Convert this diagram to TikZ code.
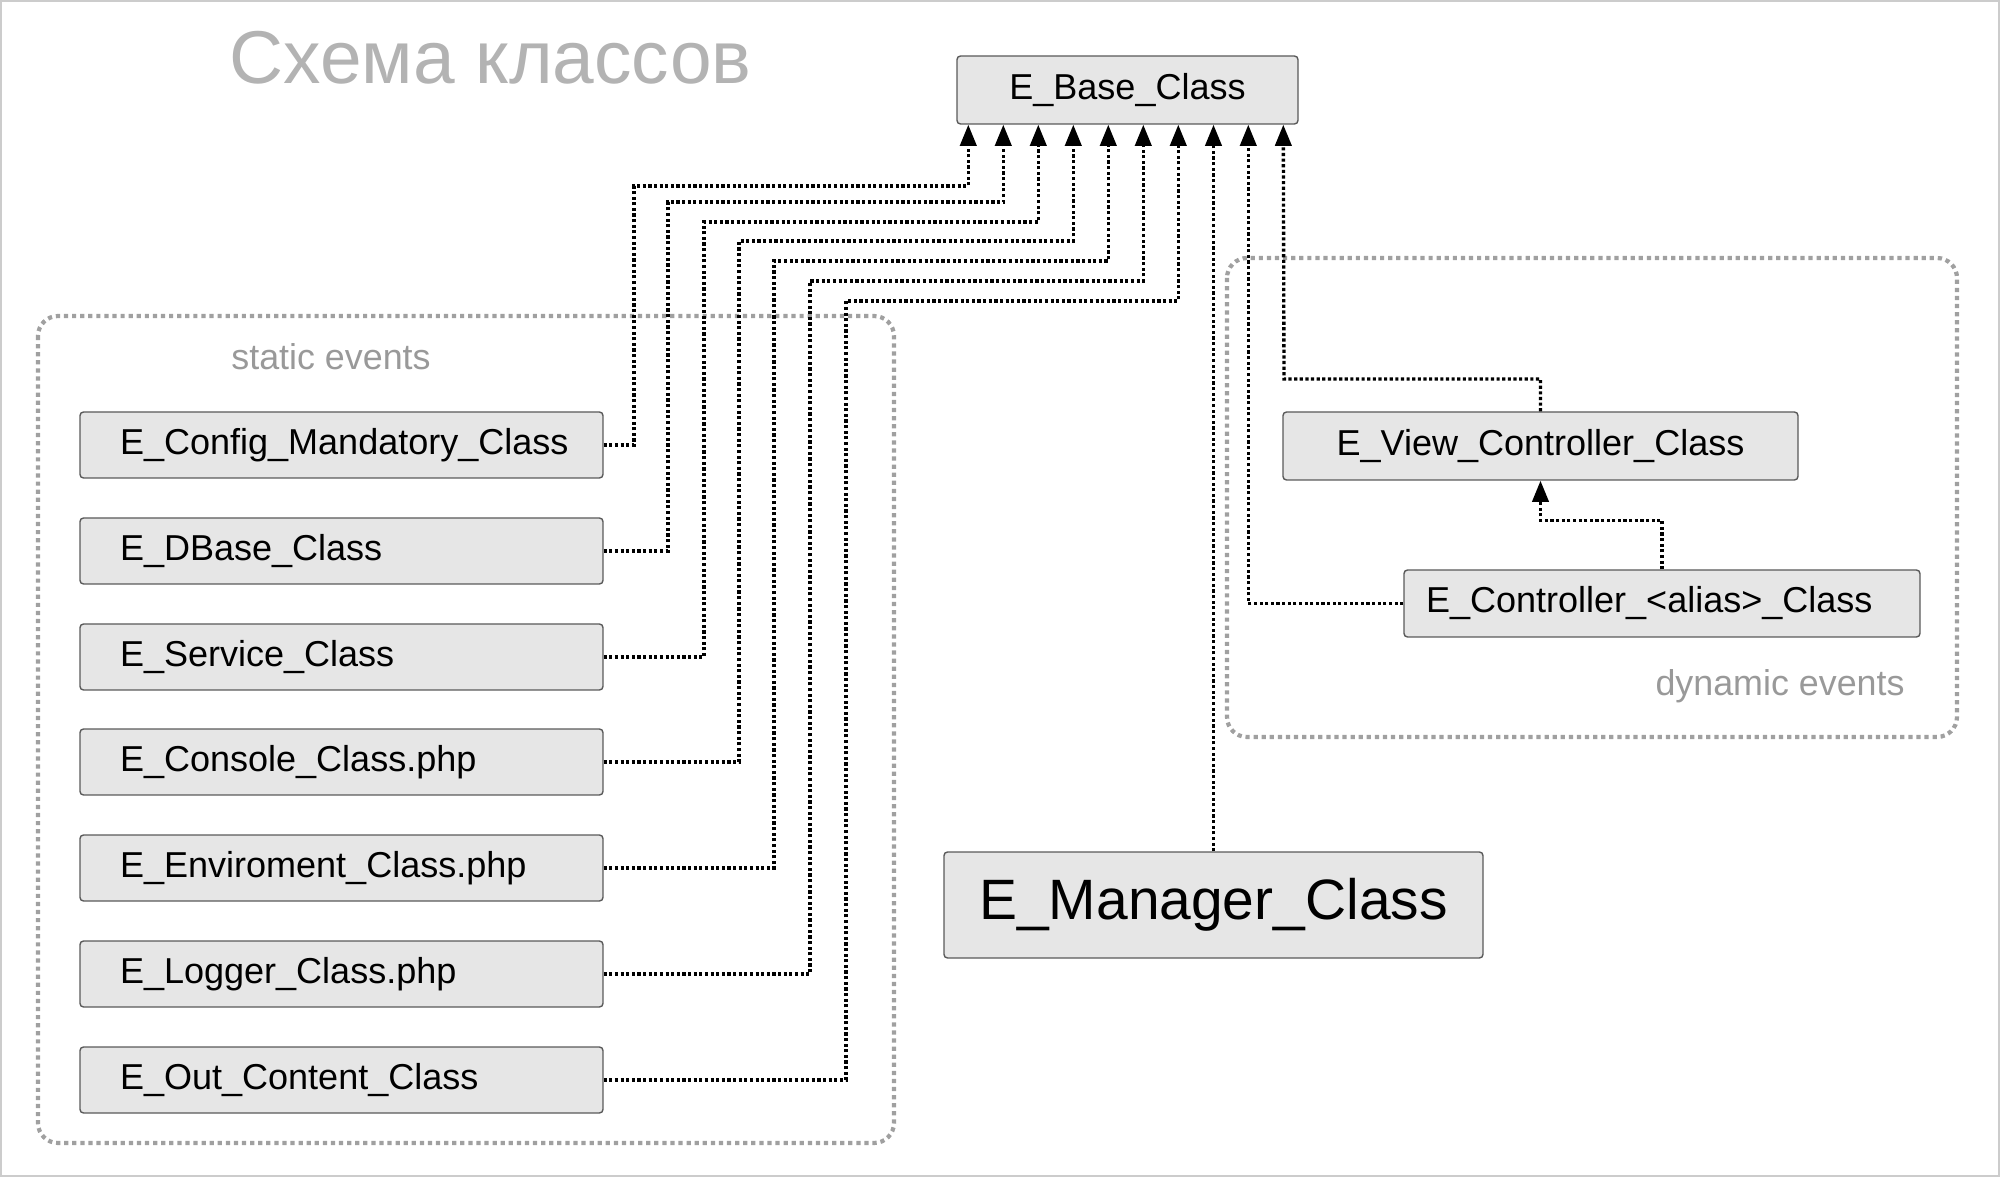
\documentclass[tikz,border=0pt]{standalone}
\usepackage{fontspec}
\setmainfont{Liberation Sans}
\usetikzlibrary{arrows.meta}
\tikzset {>={Triangle[length=6pt,width=4.6pt]}}
\definecolor{boxfill}{HTML}{E6E6E6}
\definecolor{boxline}{HTML}{5A5A5A}
\definecolor{framegray}{HTML}{A0A0A0}
\definecolor{titlegray}{HTML}{B3B3B3}
\definecolor{labelgray}{HTML}{999999}

\begin{document}
\begin{tikzpicture}[x=0.1mm,y=-0.1mm,
  cls/.style={draw=boxline,fill=boxfill,rounded corners=1pt,line width=0.4pt,inner sep=0pt,font=\fontsize{10.25}{12}\selectfont},
  leftcls/.style={cls,minimum width=52.3mm,minimum height=6.6mm,text width=44.3mm,align=left},
  link/.style={line width=0.95pt,dash pattern=on 0.9pt off 0.7pt},
  grp/.style={framegray,line width=1.2pt,dash pattern=on 1.2pt off 1.1pt,rounded corners=2mm},
  lbl/.style={text=labelgray,font=\fontsize{10.2}{12}\selectfont}]
\useasboundingbox (0,0) rectangle (2000,1177);
\draw[gray!40,line width=0.6pt] (1,1) rectangle (1999,1176);
\node[anchor=base west,text=titlegray,font=\fontsize{21.3}{25}\selectfont] (title) at (217,84) {Схема классов};
% groups
\draw[grp] (38,316) rectangle (894,1143);
\draw[grp] (1227,258) rectangle (1957,737);
\node[lbl,anchor=base] (statlbl) at (331,370) {static events};
\node[lbl,anchor=base east] (dynlbl) at (1917,695) {dynamic events};
% classes
\node[cls,minimum width=34.1mm,minimum height=6.8mm] (base) at (1127.5,90) {E\_Base\_Class};
\node[leftcls] (cfg) at (341.5,445) {E\_Config\_Mandatory\_Class};
\node[leftcls] (dbase) at (341.5,551) {E\_DBase\_Class};
\node[leftcls] (srv) at (341.5,657) {E\_Service\_Class};
\node[leftcls] (con) at (341.5,762) {E\_Console\_Class.php};
\node[leftcls] (env) at (341.5,868) {E\_Enviroment\_Class.php};
\node[leftcls] (log) at (341.5,974) {E\_Logger\_Class.php};
\node[leftcls] (out) at (341.5,1080) {E\_Out\_Content\_Class};
\node[cls,minimum width=51.5mm,minimum height=6.8mm] (view) at (1540.5,446) {E\_View\_Controller\_Class};
\node[cls,minimum width=51.6mm,minimum height=6.7mm,text width=47.2mm,align=left] (alias) at (1662,603.5) {E\_Controller\_<alias>\_Class};
\node[cls,minimum width=53.9mm,minimum height=10.6mm,font=\fontsize{16.2}{19}\selectfont] (mgr) at (1213.5,905) {E\_Manager\_Class};
% inheritance
\draw[link,->] (cfg.east) -| (634,186) -| ([xshift=1.2mm]base.south west);
\draw[link,->] (dbase.east) -| (668,202) -| ([xshift=4.7mm]base.south west);
\draw[link,->] (srv.east) -| (704,222) -| ([xshift=8.2mm]base.south west);
\draw[link,->] (con.east) -| (739,241) -| ([xshift=11.7mm]base.south west);
\draw[link,->] (env.east) -| (774,261) -| ([xshift=15.2mm]base.south west);
\draw[link,->] (log.east) -| (810,281) -| ([xshift=18.7mm]base.south west);
\draw[link,->] (out.east) -| (846,301) -| ([xshift=22.2mm]base.south west);
\draw[link,->] (mgr.north) -- (mgr.north |- base.south);
\draw[link,->] (alias.west) -| ([xshift=29.2mm]base.south west);
\draw[link,->] (view.north) |- (1284,379) -- ([xshift=32.7mm]base.south west);
\draw[link,->] (alias.north) -- ++(0,-49) -| (view.south);
\end{tikzpicture}
\end{document}
